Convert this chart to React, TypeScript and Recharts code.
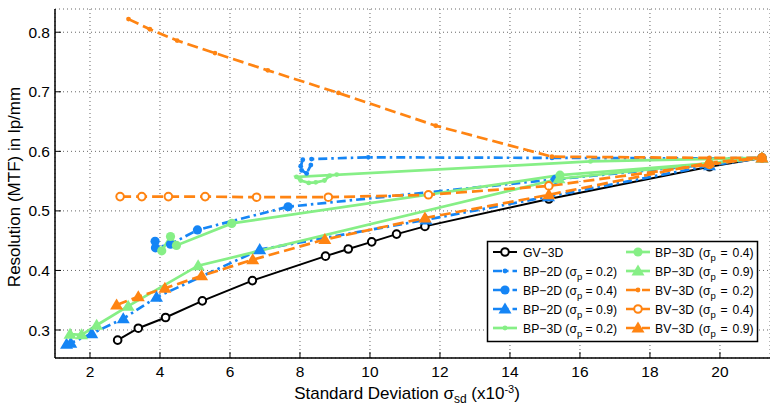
import React from 'react'
import { LineChart, Line, XAxis, YAxis, CartesianGrid } from 'recharts'

document.body.style.margin = '0'

// values (x in 1e-3, y in lp/mm)
const gvX = [2.79, 3.38, 4.16, 5.21, 6.64, 8.73, 9.38, 10.05, 10.76, 11.57, 15.11, 19.7, 21.2]
const gvY = [0.283, 0.303, 0.321, 0.349, 0.383, 0.424, 0.436, 0.448, 0.461, 0.474, 0.52, 0.574, 0.589]

const bp2d02X = [8.08, 8.02, 8.05, 8.19, 8.31, 8.33, 9.95, 15.2, 19.7, 21.2]
const bp2d02Y = [0.586, 0.575, 0.568, 0.563, 0.577, 0.587, 0.59, 0.589, 0.588, 0.589]
const bp2d04X = [3.86, 3.87, 4.3, 5.07, 7.66, 15.3, 19.7, 21.2]
const bp2d04Y = [0.449, 0.438, 0.444, 0.468, 0.507, 0.553, 0.578, 0.589]
const bp2d09X = [1.33, 1.45, 2.05, 2.95, 3.9, 6.85, 11.6, 15.1, 19.7, 21.2]
const bp2d09Y = [0.276, 0.278, 0.294, 0.319, 0.355, 0.435, 0.485, 0.524, 0.576, 0.589]

const bp3d02X = [21.2, 16.3, 7.9, 8.02, 8.25, 8.45, 8.7, 8.85, 9.05]
const bp3d02Y = [0.589, 0.583, 0.557, 0.551, 0.547, 0.548, 0.551, 0.559, 0.561]
const bp3d04X = [4.05, 4.3, 4.47, 6.05, 15.43, 19.7, 21.2]
const bp3d04Y = [0.433, 0.457, 0.442, 0.479, 0.56, 0.58, 0.589]
const bp3d09X = [1.43, 1.76, 2.19, 3.09, 5.09, 15.4, 21.2]
const bp3d09Y = [0.293, 0.292, 0.308, 0.34, 0.408, 0.554, 0.589]

const bv3d02X = [3.1, 3.71, 4.49, 5.57, 7.08, 9.1, 11.88, 15.2, 19.7, 21.2]
const bv3d02Y = [0.822, 0.805, 0.786, 0.765, 0.736, 0.698, 0.643, 0.591, 0.589, 0.589]
const bv3d04X = [2.86, 3.48, 4.24, 5.29, 6.76, 8.81, 11.67, 15.11, 19.7, 21.2]
const bv3d04Y = [0.524, 0.524, 0.524, 0.524, 0.523, 0.523, 0.527, 0.542, 0.578, 0.589]
const bv3d09X = [2.76, 3.38, 4.14, 5.19, 6.65, 8.71, 11.57, 15.11, 19.67, 21.2]
const bv3d09Y = [0.342, 0.356, 0.37, 0.391, 0.418, 0.452, 0.488, 0.527, 0.581, 0.589]

const xTicks = [2, 4, 6, 8, 10, 12, 14, 16, 18, 20]
const yTicks = [0.3, 0.4, 0.5, 0.6, 0.7, 0.8]

const BLACK = '#000000'
const BLUE = '#1585f5'
const GREEN = '#86ef86'
const ORANGE = '#ff8412'
const DASHDOT = '9 4 2.5 4'
const DASHED = '11 5'

const zip = (xs: number[], ys: number[]) => xs.map((x, i) => ({ x, y: ys[i] }))

type Kind = 'ocircle' | 'dot' | 'circle' | 'tri'

function Marker({ cx, cy, kind, color }: { cx: number; cy: number; kind: Kind; color: string }) {
  if (kind === 'dot') return <circle cx={cx} cy={cy} r={2.4} fill={color} />
  if (kind === 'circle') return <circle cx={cx} cy={cy} r={4.6} fill={color} />
  if (kind === 'ocircle')
    return <circle cx={cx} cy={cy} r={3.8} fill="#fff" stroke={color} strokeWidth={2} />
  const s = 6.5
  return (
    <polygon
      points={`${cx},${cy - s} ${cx - s},${cy + s * 0.7} ${cx + s},${cy + s * 0.7}`}
      fill={color}
    />
  )
}

const makeDot = (kind: Kind, color: string) => (p: any) => (
  <g key={`m${p.index}`}>
    <Marker cx={p.cx} cy={p.cy} kind={kind} color={color} />
  </g>
)

interface Series {
  name: string
  data: { x: number; y: number }[]
  color: string
  dash?: string
  width: number
  kind: Kind
}

const series: Series[] = [
  { name: 'GV\u22123D', data: zip(gvX, gvY), color: BLACK, width: 2, kind: 'ocircle' },
  { name: 'BP\u22122D (σ|p| = 0.2)', data: zip(bp2d02X, bp2d02Y), color: BLUE, dash: DASHDOT, width: 2.7, kind: 'dot' },
  { name: 'BP\u22122D (σ|p| = 0.4)', data: zip(bp2d04X, bp2d04Y), color: BLUE, dash: DASHDOT, width: 2.7, kind: 'circle' },
  { name: 'BP\u22122D (σ|p| = 0.9)', data: zip(bp2d09X, bp2d09Y), color: BLUE, dash: DASHDOT, width: 2.7, kind: 'tri' },
  { name: 'BP\u22123D (σ|p| = 0.2)', data: zip(bp3d02X, bp3d02Y), color: GREEN, width: 2.7, kind: 'dot' },
  { name: 'BP\u22123D (σ|p| = 0.4)', data: zip(bp3d04X, bp3d04Y), color: GREEN, width: 2.7, kind: 'circle' },
  { name: 'BP\u22123D (σ|p| = 0.9)', data: zip(bp3d09X, bp3d09Y), color: GREEN, width: 2.7, kind: 'tri' },
  { name: 'BV\u22123D (σ|p| = 0.2)', data: zip(bv3d02X, bv3d02Y), color: ORANGE, dash: DASHED, width: 2.7, kind: 'dot' },
  { name: 'BV\u22123D (σ|p| = 0.4)', data: zip(bv3d04X, bv3d04Y), color: ORANGE, dash: DASHED, width: 2.7, kind: 'ocircle' },
  { name: 'BV\u22123D (σ|p| = 0.9)', data: zip(bv3d09X, bv3d09Y), color: ORANGE, dash: DASHED, width: 2.7, kind: 'tri' },
]

const FONT = '"Liberation Sans", Arial, Helvetica, sans-serif'
const PLOT_TOP = 9
const PLOT_BOTTOM = 358
const PLOT_LEFT = 55

const XTick = ({ x, payload }: any) => (
  <g>
    <line x1={x} x2={x} y1={PLOT_BOTTOM} y2={PLOT_BOTTOM - 6} stroke="#000" strokeWidth={1} />
    <text x={x} y={PLOT_BOTTOM + 19} textAnchor="middle" fontSize={15.5} fill="#000" fontFamily={FONT}>
      {payload.value}
    </text>
  </g>
)

const YTick = ({ y, payload }: any) => (
  <g>
    <line x1={PLOT_LEFT} x2={PLOT_LEFT + 6} y1={y} y2={y} stroke="#000" strokeWidth={1} />
    <text x={PLOT_LEFT - 5} y={y + 5.5} textAnchor="end" fontSize={15.5} fill="#000" fontFamily={FONT}>
      {Number(payload.value).toFixed(1)}
    </text>
  </g>
)

function LegendLabel({ x, y, label, wide }: { x: number; y: number; label: string; wide: boolean }) {
  const parts = label.split('|')
  const gap = wide ? 1 : 0
  if (parts.length === 1)
    return (
      <text x={x} y={y} fontSize={12.2} fontFamily={FONT}>
        {label}
      </text>
    )
  return (
    <text x={x} y={y} fontSize={12.2} fontFamily={FONT} style={{ whiteSpace: 'pre' }} wordSpacing={gap * 1.5}>
      <tspan>{parts[0]}</tspan>
      <tspan dy={4} fontSize={9.5}>{parts[1]}</tspan>
      <tspan dy={-4}>{parts[2]}</tspan>
    </text>
  )
}

function Overlay() {
  const rows = [252, 271, 290, 309, 328]
  return (
    <svg
      width={770}
      height={406}
      style={{ position: 'absolute', left: 0, top: 0, pointerEvents: 'none' }}
    >
      <text
        transform="translate(20,187) rotate(-90)"
        textAnchor="middle"
        fontSize={17}
        fontFamily={FONT}
      >
        Resolution (MTF) in lp/mm
      </text>
      <text x={407} y={399} textAnchor="middle" fontSize={17} fontFamily={FONT}>
        Standard Deviation σ
        <tspan dy={4} fontSize={12}>sd</tspan>
        <tspan dy={-4}> (x10</tspan>
        <tspan dy={-6} fontSize={11}>-3</tspan>
        <tspan dy={6}>)</tspan>
      </text>

      <rect x={487.5} y={241.5} width={270} height={100} fill="#fff" stroke="#000" strokeWidth={1.5} />
      {series.map((s, i) => {
        const col = i < 5 ? 0 : 1
        const row = i % 5
        const x0 = col === 0 ? 493 : 626
        const x1 = x0 + 24
        const y = rows[row]
        return (
          <g key={s.name}>
            <line
              x1={x0}
              x2={x1}
              y1={y}
              y2={y}
              stroke={s.color}
              strokeWidth={s.width}
              strokeDasharray={s.dash}
            />
            <Marker cx={(x0 + x1) / 2} cy={y} kind={s.kind} color={s.color} />
            <LegendLabel x={col === 0 ? 523 : 655} y={y + 4.5} label={s.name} wide={col === 1} />
          </g>
        )
      })}
    </svg>
  )
}

export default function App() {
  return (
    <div style={{ position: 'relative', width: 770, height: 406, background: '#fff' }}>
      <LineChart
        width={770}
        height={406}
        margin={{ top: PLOT_TOP, right: 0, bottom: 0, left: 0 }}
      >
        <CartesianGrid stroke="#666" strokeDasharray="1 3" />
        <XAxis
          type="number"
          dataKey="x"
          domain={[1, 21.43]}
          ticks={xTicks}
          allowDataOverflow
          tickSize={0}
          tickMargin={0}
          tick={<XTick />}
          axisLine={{ stroke: '#000', strokeWidth: 1.5 }}
          tickLine={false}
          height={406 - PLOT_BOTTOM}
        />
        <YAxis
          type="number"
          dataKey="y"
          domain={[0.253, 0.839]}
          ticks={yTicks}
          allowDataOverflow
          tickSize={0}
          tickMargin={0}
          tick={<YTick />}
          axisLine={{ stroke: '#000', strokeWidth: 1.5 }}
          tickLine={false}
          width={PLOT_LEFT}
        />
        {series.map((s) => (
          <Line
            key={s.name}
            data={s.data}
            dataKey="y"
            type="linear"
            stroke={s.color}
            strokeWidth={s.width}
            strokeDasharray={s.dash}
            dot={makeDot(s.kind, s.color)}
            activeDot={false}
            isAnimationActive={false}
          />
        ))}
      </LineChart>
      <Overlay />
    </div>
  )
}
